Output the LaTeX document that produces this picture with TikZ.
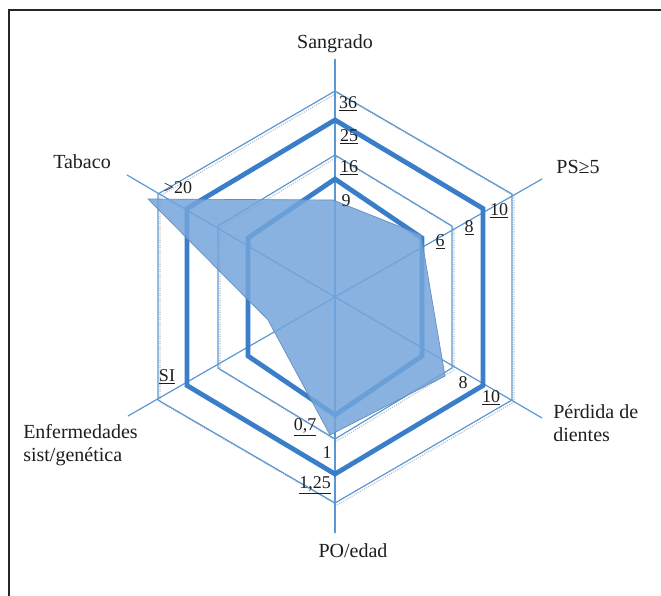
\documentclass[tikz,border=0pt]{standalone}
\usepackage{fontspec}
\setmainfont{Liberation Serif}
\usepackage{tikz}
\usetikzlibrary{positioning}
\definecolor{axisblue}{RGB}{88,152,212}
\definecolor{ringblue}{RGB}{58,126,202}
\definecolor{areablue}{RGB}{116,165,218}
\definecolor{labelgray}{RGB}{30,30,30}
\tikzset{
	axisline/.style = {draw=axisblue, line width=0.9pt},
	ringthin/.style = {draw=axisblue, line width=0.9pt, line join=miter},
	ringthick/.style = {draw=ringblue, line width=3.6pt, line join=miter},
	ringshadow/.style = {draw=gray!55, line width=0.8pt, densely dotted},
	area/.style = {fill=areablue, fill opacity=0.85, draw=areablue!85!black, line width=0.5pt},
	axlbl/.style = {align=left, inner sep=0pt, text=labelgray, font=\fontsize{15}{17.5}\selectfont},
	scalelbl/.style = {inner sep=0pt, text=labelgray, font=\fontsize{13.5}{15}\selectfont}
}

\begin{document}
\begin{tikzpicture}[x=0.75pt, y=-0.75pt]
\useasboundingbox (0,0) rectangle (661,596);
% frame
\draw[line width=1.1pt, black!85] (661,10) -- (9,10) -- (9,596);

% centre and axis ends
\coordinate (c) at (335,297);
\coordinate (sangr) at (335,59);
\coordinate (psax) at (542,179);
\coordinate (perd) at (542,418);
\coordinate (poed) at (335,533);
\coordinate (enf) at (128,416);
\coordinate (tab) at (127,175);

% rings, thin ones with a grey shadow
\foreach \rv/\hw in {206/177, 142/117}{
	\draw[ringshadow, shift={(337,299)}] (0,-\rv) -- (\hw,-\rv/2) -- (\hw,\rv/2) -- (0,\rv) -- (-\hw,\rv/2) -- (-\hw,-\rv/2) -- cycle;
	\draw[ringthin, shift={(335,297)}] (0,-\rv) -- (\hw,-\rv/2) -- (\hw,\rv/2) -- (0,\rv) -- (-\hw,\rv/2) -- (-\hw,-\rv/2) -- cycle;
}
\foreach \a in {sangr, psax, perd, poed, enf, tab}
	\draw[axisline] (c) -- (\a);
\foreach \rv/\hw in {177/148, 118/87}
	\draw[ringthick, shift={(335,297)}] (0,-\rv) -- (\hw,-\rv/2) -- (\hw,\rv/2) -- (0,\rv) -- (-\hw,\rv/2) -- (-\hw,-\rv/2) -- cycle;

% patient profile
\draw[area] (148,199) -- (333,200) -- (421,235) -- (445,376) -- (330,435) -- (268,320) -- cycle;

% axis titles
\node[axlbl] (sangrado) at (335,44) {Sangrado};
\node[axlbl] (ps) at (578,167) {PS≥5};
\node[axlbl] (tabaco) at (82,162) {Tabaco};
\node[axlbl, anchor=west] (perdida) at (553,423) {Pérdida de\\dientes};
\node[axlbl, anchor=west] (enferm) at (23,445) {Enfermedades\\sist/genética};
\node[axlbl] (poedad) at (353,551) {PO/edad};

% scale values
\node[scalelbl] (s36) at (348,104) {\underline{36}};
\node[scalelbl] (s25) at (349,137) {\underline{25}};
\node[scalelbl] (s16) at (349,168) {\underline{16}};
\node[scalelbl] (s9) at (346,201) {9};
\node[scalelbl] (t20) at (178,188) {>20};
\node[scalelbl] (p6) at (440,242) {\underline{6}};
\node[scalelbl] (p8) at (469,228) {\underline{8}};
\node[scalelbl] (p10) at (499,211) {\underline{10}};
\node[scalelbl] (d8) at (463,383) {8};
\node[scalelbl] (d10) at (491,398) {\underline{10}};
\node[scalelbl] (e07) at (305,427) {\underline{0,7}};
\node[scalelbl] (e1) at (327,453) {1};
\node[scalelbl] (e125) at (315,485) {\underline{1,25}};
\node[scalelbl] (si) at (167,377) {\underline{SI}};
\end{tikzpicture}
\end{document}
